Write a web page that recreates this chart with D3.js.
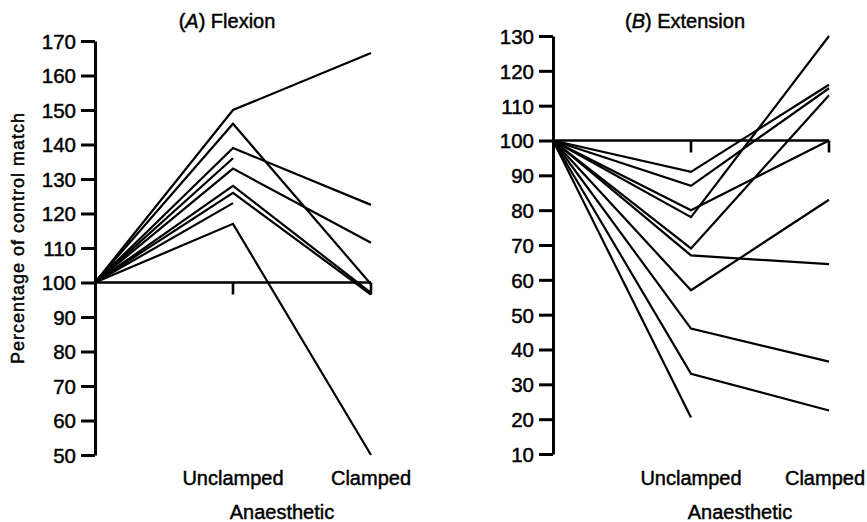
<!DOCTYPE html>
<html>
<head>
<meta charset="utf-8">
<script src="https://cdn.jsdelivr.net/npm/d3@7"></script>
<style>
body { margin: 0; background: #fff; }
svg text { font-family: "Liberation Sans", Arial, sans-serif; fill: #000; stroke: #000; stroke-width: 0.45px; }
.tick text { font-size: 20.5px; }
.dataline { fill: none; stroke: #000; stroke-width: 2.2; stroke-linejoin: miter; }
.refline { fill: none; stroke: #000; stroke-width: 2.6; }
.domain, .tick line { stroke: #000; stroke-width: 3; }
</style>
</head>
<body>
<script>
// conditions along the x axis
var conditions = ["Control", "Unclamped", "Clamped"];
var catLabels = ["Unclamped", "Clamped"];

// (A) flexion, one entry per subject, control = 100
var flexUnclamped = [150, 146, 139, 136, 133, 128, 126, 123, 117];
var flexClamped   = [166.5, 99.5, 122.5, null, 111.5, 97, 96.5, null, 50];
var flexTicks = [50, 60, 70, 80, 90, 100, 110, 120, 130, 140, 150, 160, 170];

// (B) extension
var extUnclamped = [91, 87, 80, 78, 69, 67, 57, 46, 33, 20.5];
var extClamped   = [116, 115, 100, 130, 113, 64.5, 83, 36.5, 22.5, null];
var extTicks = [10, 20, 30, 40, 50, 60, 70, 80, 90, 100, 110, 120, 130];

var control = 100;

var width = 867, height = 522;
var svg = d3.select("body").append("svg").attr("width", width).attr("height", height);

function panel(opts) {
  var x = d3.scalePoint().domain(conditions).range(opts.xr);
  var y = d3.scaleLinear().domain(opts.ydom).range(opts.yr);
  var g = svg.append("g");

  // reference line at 100 with ticks at each anaesthetic condition
  g.append("line").attr("class", "refline")
    .attr("x1", x("Control")).attr("x2", x("Clamped"))
    .attr("y1", y(control)).attr("y2", y(control));
  catLabels.forEach(function(c) {
    g.append("line").attr("class", "refline")
      .attr("x1", x(c)).attr("x2", x(c))
      .attr("y1", y(control)).attr("y2", y(control) + 12);
  });

  var line = d3.line()
    .x(function(d) { return x(d.k); })
    .y(function(d) { return y(d.v); });

  opts.unclamped.forEach(function(u, i) {
    var pts = [{k: "Control", v: control}, {k: "Unclamped", v: u}];
    if (opts.clamped[i] != null) pts.push({k: "Clamped", v: opts.clamped[i]});
    g.append("path").datum(pts).attr("class", "dataline").attr("d", line);
  });

  var ax = g.append("g")
    .attr("transform", "translate(" + x("Control") + ",0)")
    .call(d3.axisLeft(y).tickValues(opts.ticks).tickSize(14).tickSizeOuter(0).tickPadding(5));
  ax.selectAll(".tick text").attr("dy", "0.36em");

  // category labels (kept inside the page on the right)
  catLabels.forEach(function(c) {
    g.append("text").attr("x", Math.min(x(c), width - 42)).attr("y", 485)
      .attr("text-anchor", "middle").style("font-size", "20px").text(c);
  });
  g.append("text").attr("x", x("Unclamped") + 49).attr("y", 519)
    .attr("text-anchor", "middle").style("font-size", "20px").text("Anaesthetic");

  var t = g.append("text").attr("x", x("Unclamped") - 6).attr("y", 28)
    .attr("text-anchor", "middle").style("font-size", "20px");
  t.append("tspan").text("(");
  t.append("tspan").style("font-style", "italic").text(opts.letter);
  t.append("tspan").text(") " + opts.title);
}

panel({xr: [95, 371], ydom: [50, 170], yr: [455, 41], ticks: flexTicks,
       unclamped: flexUnclamped, clamped: flexClamped, letter: "A", title: "Flexion"});
panel({xr: [553, 829], ydom: [10, 130], yr: [454, 36], ticks: extTicks,
       unclamped: extUnclamped, clamped: extClamped, letter: "B", title: "Extension"});

svg.append("text")
  .attr("transform", "translate(24,238) rotate(-90)")
  .attr("text-anchor", "middle")
  .style("font-size", "18px").style("letter-spacing", "1px")
  .text("Percentage of control match");
</script>
</body>
</html>
